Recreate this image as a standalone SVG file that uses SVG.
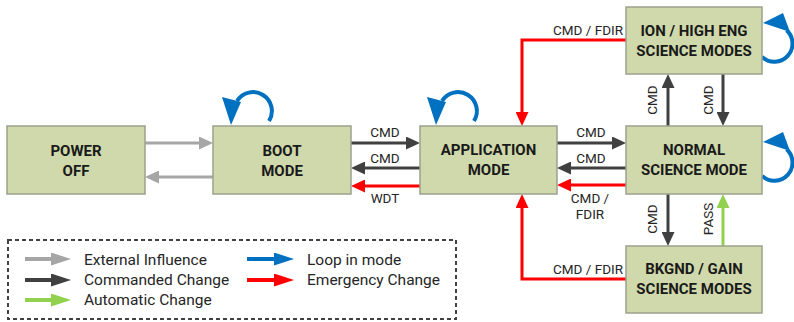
<svg xmlns="http://www.w3.org/2000/svg" width="794" height="322" viewBox="0 0 794 322">
<style>
.box{fill:#d0d9ab;stroke:#9ba18d;stroke-width:1.5}
.nt{font-family:Roboto,"Liberation Sans",sans-serif;font-weight:bold;font-size:15px;fill:#1a1a1a;text-anchor:middle}
.lb{font-family:Roboto,"Liberation Sans",sans-serif;font-size:13.5px;fill:#262626}
.lg{font-family:Roboto,"Liberation Sans",sans-serif;font-size:15.5px;fill:#262626}
.c{text-anchor:middle}
.e{text-anchor:end}
.ln{fill:none;stroke-width:3}
.gray{stroke:#a6a6a6}
.dark{stroke:#404040}
.red{stroke:#ff0000}
.green{stroke:#92d050}
.blue{stroke:#0070c0}
.loop{fill:none;stroke:#0070c0;stroke-width:4}
.head{fill:#0070c0}
.lgl{fill:none;stroke-width:4}
</style>
<defs>
<marker id="mGray" viewBox="0 0 14 13" refX="8" refY="6.5" markerWidth="14" markerHeight="13" markerUnits="userSpaceOnUse" orient="auto"><path d="M0,0 L14,6.5 L0,13 z" fill="#a6a6a6"/></marker>
<marker id="mDark" viewBox="0 0 14 13" refX="8" refY="6.5" markerWidth="14" markerHeight="13" markerUnits="userSpaceOnUse" orient="auto"><path d="M0,0 L14,6.5 L0,13 z" fill="#404040"/></marker>
<marker id="mRed" viewBox="0 0 14 13" refX="8" refY="6.5" markerWidth="14" markerHeight="13" markerUnits="userSpaceOnUse" orient="auto"><path d="M0,0 L14,6.5 L0,13 z" fill="#ff0000"/></marker>
<marker id="mGreen" viewBox="0 0 14 13" refX="8" refY="6.5" markerWidth="14" markerHeight="13" markerUnits="userSpaceOnUse" orient="auto"><path d="M0,0 L14,6.5 L0,13 z" fill="#92d050"/></marker>
<marker id="lGray" viewBox="0 0 20 13" refX="12" refY="6.5" markerWidth="20" markerHeight="13" markerUnits="userSpaceOnUse" orient="auto"><path d="M0,0 L20,6.5 L0,13 z" fill="#a6a6a6"/></marker>
<marker id="lDark" viewBox="0 0 20 13" refX="12" refY="6.5" markerWidth="20" markerHeight="13" markerUnits="userSpaceOnUse" orient="auto"><path d="M0,0 L20,6.5 L0,13 z" fill="#404040"/></marker>
<marker id="lRed" viewBox="0 0 20 13" refX="12" refY="6.5" markerWidth="20" markerHeight="13" markerUnits="userSpaceOnUse" orient="auto"><path d="M0,0 L20,6.5 L0,13 z" fill="#ff0000"/></marker>
<marker id="lGreen" viewBox="0 0 20 13" refX="12" refY="6.5" markerWidth="20" markerHeight="13" markerUnits="userSpaceOnUse" orient="auto"><path d="M0,0 L20,6.5 L0,13 z" fill="#92d050"/></marker>
<marker id="lBlue" viewBox="0 0 20 13" refX="12" refY="6.5" markerWidth="20" markerHeight="13" markerUnits="userSpaceOnUse" orient="auto"><path d="M0,0 L20,6.5 L0,13 z" fill="#0070c0"/></marker>
<g id="loopTop"><path class="loop" d="M269,121 A18,18 0 1 0 237,101"/><polygon class="head" points="222,97 241,102 231,125"/></g>
<g id="loopRight"><path class="loop" d="M762,57 A18,18 0 1 0 786.6,30.2"/><polygon class="head" points="763,23 783,13 790,32"/></g>
</defs>

<g id="connectors">
<path class="ln gray" d="M145,143 H207" marker-end="url(#mGray)"/>
<path class="ln gray" d="M213,177 H151" marker-end="url(#mGray)"/>
<path class="ln dark" d="M351,143 H414" marker-end="url(#mDark)"/>
<path class="ln dark" d="M420,168 H357" marker-end="url(#mDark)"/>
<path class="ln red" d="M420,186 H357" marker-end="url(#mRed)"/>
<path class="ln dark" d="M557,143 H620" marker-end="url(#mDark)"/>
<path class="ln dark" d="M626,168 H563" marker-end="url(#mDark)"/>
<path class="ln red" d="M626,185 H563" marker-end="url(#mRed)"/>
<path class="ln red" d="M626,40 H522 V120" marker-end="url(#mRed)"/>
<path class="ln red" d="M626,279 H522 V200" marker-end="url(#mRed)"/>
<path class="ln dark" d="M668,126 V80" marker-end="url(#mDark)"/>
<path class="ln dark" d="M723,74 V120" marker-end="url(#mDark)"/>
<path class="ln dark" d="M668,194 V240" marker-end="url(#mDark)"/>
<path class="ln green" d="M723,246 V200" marker-end="url(#mGreen)"/>
<use href="#loopTop"/>
<use href="#loopTop" transform="translate(205,0)"/>
<use href="#loopRight"/>
<use href="#loopRight" transform="translate(0,119)"/>
<text class="lb c" x="385" y="137">CMD</text>
<text class="lb c" x="385" y="163">CMD</text>
<text class="lb c" x="385" y="203">WDT</text>
<text class="lb c" x="591" y="137">CMD</text>
<text class="lb c" x="591" y="163">CMD</text>
<text class="lb c" x="590" y="203">CMD /</text>
<text class="lb c" x="590" y="219">FDIR</text>
<text class="lb e" x="623" y="35">CMD / FDIR</text>
<text class="lb e" x="623" y="274">CMD / FDIR</text>
<text class="lb c" transform="translate(657,100) rotate(-90)">CMD</text>
<text class="lb c" transform="translate(713,100) rotate(-90)">CMD</text>
<text class="lb c" transform="translate(657,219) rotate(-90)">CMD</text>
<text class="lb c" transform="translate(713,219) rotate(-90)">PASS</text>
</g>

<g id="power-off"><rect class="box" x="7" y="126" width="138" height="68"/><text class="nt" x="76" y="156">POWER</text><text class="nt" x="76" y="176">OFF</text></g>
<g id="boot-mode"><rect class="box" x="213" y="126" width="138" height="68"/><text class="nt" x="282" y="156">BOOT</text><text class="nt" x="282" y="176">MODE</text></g>
<g id="application-mode"><rect class="box" x="420" y="126" width="137" height="68"/><text class="nt" x="488.5" y="155">APPLICATION</text><text class="nt" x="488.5" y="175">MODE</text></g>
<g id="normal-science"><rect class="box" x="626" y="126" width="136" height="68"/><text class="nt" x="694" y="155">NORMAL</text><text class="nt" x="694" y="175">SCIENCE MODE</text></g>
<g id="ion-high-eng"><rect class="box" x="626" y="7" width="136" height="67"/><text class="nt" x="694" y="36">ION / HIGH ENG</text><text class="nt" x="694" y="56">SCIENCE MODES</text></g>
<g id="bkgnd-gain"><rect class="box" x="626" y="246" width="136" height="67"/><text class="nt" x="694" y="274">BKGND / GAIN</text><text class="nt" x="694" y="294">SCIENCE MODES</text></g>

<g id="legend">
<rect x="8" y="240" width="448" height="79" fill="none" stroke="#404040" stroke-width="2" stroke-dasharray="4,3"/>
<path class="lgl gray" d="M25,259 H63" marker-end="url(#lGray)"/>
<path class="lgl dark" d="M25,280 H63" marker-end="url(#lDark)"/>
<path class="lgl green" d="M25,300 H63" marker-end="url(#lGreen)"/>
<path class="lgl blue" d="M247,259 H286" marker-end="url(#lBlue)"/>
<path class="lgl red" d="M247,280 H286" marker-end="url(#lRed)"/>
<text class="lg" x="84" y="265">External Influence</text>
<text class="lg" x="84" y="285">Commanded Change</text>
<text class="lg" x="84" y="305">Automatic Change</text>
<text class="lg" x="307" y="265">Loop in mode</text>
<text class="lg" x="307" y="285">Emergency Change</text>
</g>
</svg>
